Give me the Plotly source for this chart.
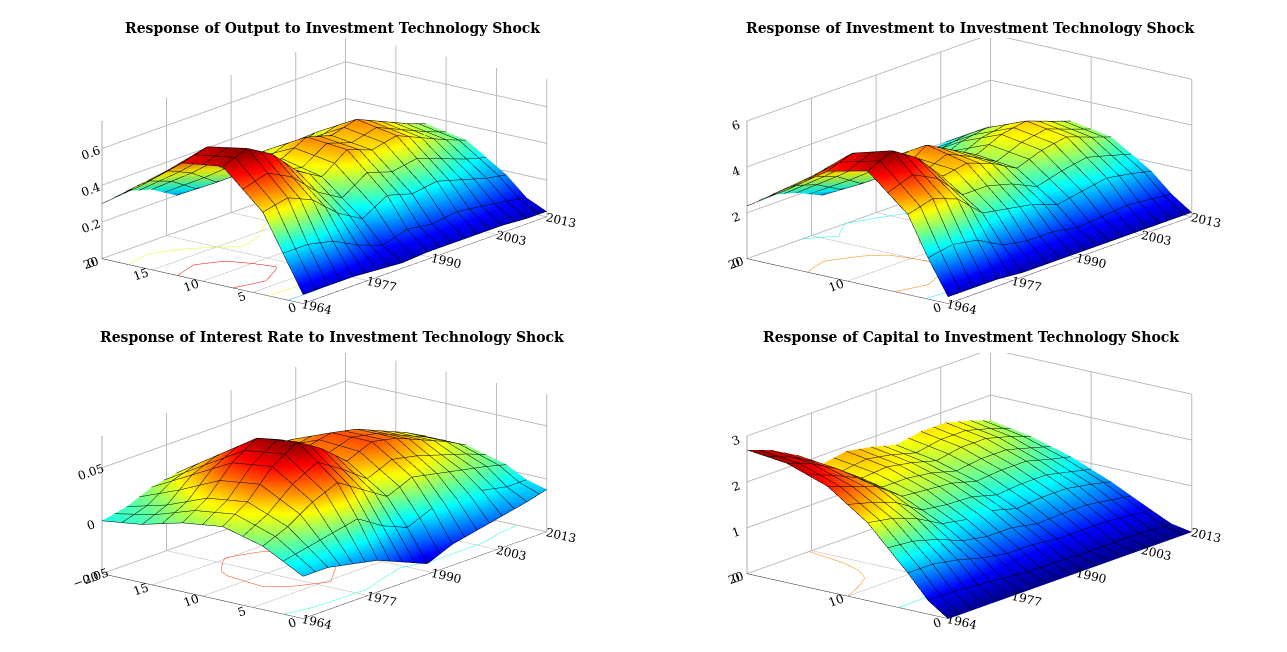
import plotly.graph_objects as go
from plotly.subplots import make_subplots

years = [1964, 1969, 1974, 1979, 1984, 1989, 1994, 1999, 2004, 2009, 2013]
horizons = [0, 2, 4, 8, 12, 16, 20]

# rows = years, cols = horizons
output_irf = [
    [0.05, 0.25, 0.45, 0.65, 0.62, 0.45, 0.30],
    [0.05, 0.25, 0.48, 0.70, 0.66, 0.48, 0.32],
    [0.05, 0.22, 0.42, 0.62, 0.58, 0.42, 0.28],
    [0.04, 0.15, 0.30, 0.48, 0.45, 0.32, 0.20],
    [0.03, 0.10, 0.22, 0.40, 0.45, 0.36, 0.22],
    [0.04, 0.14, 0.30, 0.50, 0.52, 0.40, 0.25],
    [0.04, 0.12, 0.26, 0.45, 0.48, 0.36, 0.22],
    [0.04, 0.14, 0.28, 0.48, 0.52, 0.40, 0.26],
    [0.04, 0.12, 0.24, 0.42, 0.46, 0.36, 0.24],
    [0.03, 0.10, 0.20, 0.36, 0.40, 0.32, 0.22],
    [0.03, 0.08, 0.18, 0.32, 0.36, 0.30, 0.20],
]
invest_irf = [
    [0.3, 1.8, 3.5, 5.0, 4.6, 3.4, 2.3],
    [0.3, 2.0, 3.8, 5.5, 5.0, 3.6, 2.4],
    [0.3, 1.8, 3.4, 4.8, 4.4, 3.2, 2.1],
    [0.2, 1.2, 2.4, 3.6, 3.5, 2.5, 1.6],
    [0.2, 1.0, 2.2, 3.8, 4.2, 3.2, 2.0],
    [0.2, 1.0, 2.0, 3.4, 3.6, 2.7, 1.7],
    [0.2, 0.8, 1.6, 2.8, 3.0, 2.3, 1.5],
    [0.2, 0.9, 1.8, 3.2, 3.5, 2.8, 1.8],
    [0.2, 1.0, 2.0, 3.4, 3.7, 3.0, 2.0],
    [0.2, 0.9, 1.8, 3.0, 3.3, 2.7, 1.8],
    [0.2, 0.8, 1.6, 2.7, 3.0, 2.5, 1.7],
]
rate_irf = [
    [-0.010, 0.000, 0.010, 0.020, 0.015, 0.005, 0.000],
    [-0.010, 0.005, 0.020, 0.035, 0.030, 0.015, 0.005],
    [-0.015, 0.010, 0.035, 0.060, 0.055, 0.035, 0.015],
    [-0.020, 0.015, 0.045, 0.075, 0.070, 0.045, 0.020],
    [-0.030, 0.000, 0.030, 0.060, 0.060, 0.040, 0.015],
    [-0.040, -0.010, 0.015, 0.040, 0.045, 0.030, 0.010],
    [-0.030, 0.000, 0.025, 0.050, 0.050, 0.035, 0.015],
    [-0.025, 0.000, 0.020, 0.045, 0.045, 0.030, 0.012],
    [-0.020, 0.000, 0.015, 0.035, 0.035, 0.025, 0.010],
    [-0.015, -0.005, 0.010, 0.025, 0.025, 0.015, 0.005],
    [-0.010, -0.005, 0.005, 0.015, 0.015, 0.010, 0.000],
]
capital_irf = [
    [0.00, 0.30, 0.80, 1.70, 2.30, 2.60, 2.70],
    [0.00, 0.30, 0.80, 1.60, 2.10, 2.40, 2.50],
    [0.00, 0.25, 0.70, 1.40, 1.90, 2.10, 2.20],
    [0.00, 0.20, 0.55, 1.10, 1.50, 1.70, 1.80],
    [0.00, 0.15, 0.45, 1.00, 1.45, 1.75, 1.90],
    [0.00, 0.15, 0.45, 1.00, 1.40, 1.65, 1.80],
    [0.00, 0.12, 0.38, 0.85, 1.25, 1.50, 1.65],
    [0.00, 0.12, 0.38, 0.90, 1.30, 1.60, 1.75],
    [0.00, 0.12, 0.38, 0.90, 1.30, 1.60, 1.75],
    [0.00, 0.10, 0.32, 0.80, 1.15, 1.45, 1.60],
    [0.00, 0.08, 0.28, 0.70, 1.05, 1.30, 1.45],
]

titles = [
    "Response of Output to Investment Technology Shock",
    "Response of Investment to Investment Technology Shock",
    "Response of Interest Rate to Investment Technology Shock",
    "Response of Capital to Investment Technology Shock",
]
panels = [output_irf, invest_irf, rate_irf, capital_irf]
ztick_sets = [
    [0, 0.2, 0.4, 0.6],
    [0, 2, 4, 6],
    [-0.05, 0, 0.05],
    [0, 1, 2, 3],
]
zranges = [[0, 0.75], [0, 6], [-0.05, 0.08], [0, 3]]
ytick_sets = [[0, 5, 10, 15, 20], [0, 10, 20], [0, 5, 10, 15, 20], [0, 10, 20]]

JET = [
    [0.0, "#00008f"], [0.125, "#0000ff"], [0.375, "#00ffff"],
    [0.625, "#ffff00"], [0.875, "#ff0000"], [1.0, "#800000"],
]

fig = make_subplots(
    rows=2, cols=2,
    specs=[[{"type": "scene"}, {"type": "scene"}], [{"type": "scene"}, {"type": "scene"}]],
    horizontal_spacing=0.01, vertical_spacing=0.02,
)

for i, (z, zr) in enumerate(zip(panels, zranges)):
    zt = [list(r) for r in zip(*z)]  # rows = horizons
    fig.add_trace(
        go.Surface(
            x=years, y=horizons, z=zt,
            colorscale=JET, showscale=False,
            cmin=zr[0], cmax=max(max(r) for r in z),
            contours=dict(
                z=dict(show=True, usecolormap=True, project=dict(z=True), width=2),
                x=dict(show=True, color="black", width=1, start=1964, end=2013, size=2.5),
                y=dict(show=True, color="black", width=1, start=0, end=20, size=2),
            ),
            lighting=dict(ambient=0.9, diffuse=0.3, specular=0.1),
        ),
        row=i // 2 + 1, col=i % 2 + 1,
    )

font = dict(family="DejaVu Serif", size=12, color="black")
axis_common = dict(showbackground=False, gridcolor="#bbbbbb", linecolor="black",
                   showline=True, title="", tickfont=font, zeroline=False)
layout_scenes = {}
for i in range(4):
    key = "scene" if i == 0 else f"scene{i + 1}"
    layout_scenes[key] = dict(
        xaxis=dict(axis_common, tickvals=[1964, 1977, 1990, 2003, 2013], range=[1964, 2013]),
        yaxis=dict(axis_common, tickvals=ytick_sets[i], range=[0, 20]),
        zaxis=dict(axis_common, tickvals=ztick_sets[i], range=zranges[i]),
        aspectmode="manual", aspectratio=dict(x=2.6, y=1.7, z=0.95),
        camera=dict(eye=dict(x=-1.15, y=-0.95, z=0.3), center=dict(x=0.05, y=0, z=-0.15),
                    projection=dict(type="orthographic")),
    )

annotations = []
for i, t in enumerate(titles):
    annotations.append(dict(
        text=f"<b>{t}</b>", x=0.25 if i % 2 == 0 else 0.75, y=1.0 if i < 2 else 0.5,
        xref="paper", yref="paper", xanchor="center", yanchor="bottom",
        showarrow=False, font=dict(family="DejaVu Serif", size=14, color="black"),
    ))

fig.update_layout(
    width=1287, height=652, paper_bgcolor="white",
    margin=dict(l=5, r=5, t=30, b=5),
    annotations=annotations, **layout_scenes,
)
fig.write_html("out.html")
